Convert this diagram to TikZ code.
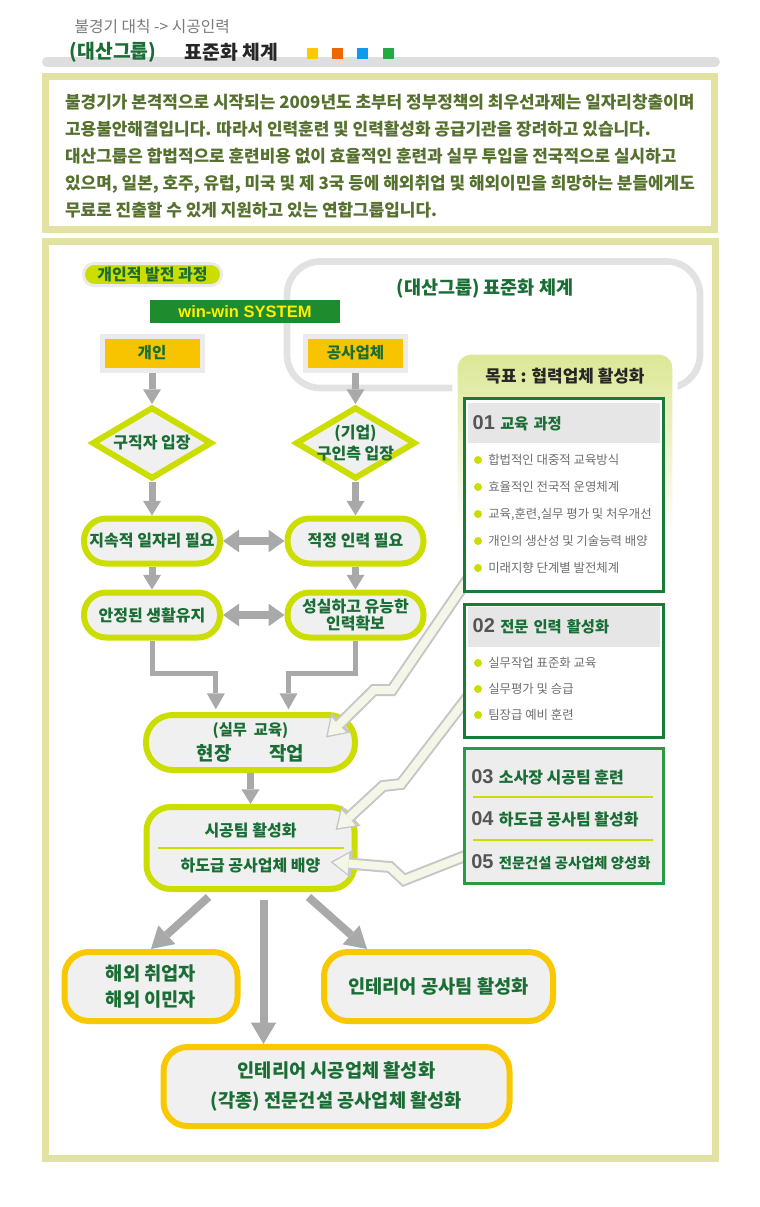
\documentclass[tikz,border=0pt]{standalone}
\usepackage{fontspec}
\setmainfont{Noto Sans CJK KR}
\newfontfamily\latfont{Liberation Sans}
\usetikzlibrary{arrows.meta,calc,shapes.geometric}

\definecolor{cKhaki}{HTML}{E2E2A2}
\definecolor{cLime}{HTML}{CCDD00}
\definecolor{cDark}{HTML}{1A6E35}
\definecolor{cOlive}{HTML}{56702E}
\definecolor{cArr}{HTML}{A9A9A9}
\definecolor{cFill}{HTML}{F0F0F0}
\definecolor{cFrame}{HTML}{E2E2E2}
\definecolor{cYel}{HTML}{F8C400}
\definecolor{cGold}{HTML}{FAC800}
\definecolor{cBox}{HTML}{1A7A3A}
\definecolor{cBoxT}{HTML}{2A9A45}
\definecolor{cBand}{HTML}{E6E6E6}
\definecolor{cWin}{HTML}{1E8C2E}
\definecolor{cWinT}{HTML}{FFEE00}
\definecolor{cNum}{HTML}{555555}
\definecolor{cItem}{HTML}{6E6E6E}
\definecolor{cBolt}{HTML}{F4F6E8}
\definecolor{cBoltl}{HTML}{C6C6C6}
\definecolor{cPanel}{HTML}{DCE794}
\definecolor{cGrey}{HTML}{7A7A7A}
\definecolor{cBar}{HTML}{DEDEDE}
\definecolor{cEdge}{HTML}{EBEBEB}
\definecolor{cLight}{HTML}{EDEDED}
\definecolor{cSqY}{HTML}{FFC800}
\definecolor{cSqO}{HTML}{EE6600}
\definecolor{cSqB}{HTML}{1199EE}
\definecolor{cSqG}{HTML}{22AA44}

\newcommand\fsz[2]{\fontsize{#1}{#2}\selectfont}
\newcommand\bignum[1]{{\latfont\bfseries\fsz{15pt}{15pt}\color{cNum}#1}\hspace{4pt}}

\tikzset{
  garr/.style={draw=cArr, line width=5.25pt, -{Triangle[width=13.5pt,length=11pt,line width=0pt]}},
  darr/.style={draw=cArr, line width=6pt, {Triangle[width=17pt,length=12pt,line width=0pt]}-{Triangle[width=17pt,length=12pt,line width=0pt]}},
  elbow/.style={draw=cArr, line width=3.75pt, shorten >=2pt, -{Triangle[width=13.5pt,length=12pt,line width=0pt]}},
  fan/.style={draw=cArr, line width=6pt, -{Triangle[width=19pt,length=16pt,line width=0pt]}},
  bolt/.style={preaction={draw=cBoltl, line width=9pt, shorten >=0pt, -{Triangle[width=21pt,length=16pt,line width=0pt]}},
    draw=cBolt, line width=6pt, shorten >=2pt, -{Triangle[width=15.5pt,length=11.5pt,line width=0pt]}},
  intro/.style={inner sep=0pt, text=cOlive, font=\bfseries\fsz{12.7pt}{20.25pt}, align=left},
  tag/.style={rectangle, rounded corners=8pt, draw=cEdge, line width=2.25pt, fill=cLime, minimum width=103.5pt,
    minimum height=16.5pt, inner sep=0pt, text=cDark, font=\bfseries\fsz{12pt}{13pt}},
  win/.style={fill=cWin, minimum width=142.5pt, minimum height=17.25pt, inner sep=0pt, text=cWinT,
    font=\latfont\bfseries\fsz{12.4pt}{14pt}},
  ybox/.style={draw=cEdge, line width=3.75pt, fill=cYel, minimum width=75pt, minimum height=25.5pt,
    inner sep=0pt, text=cDark, font=\bfseries\fsz{11.7pt}{13pt}},
  dia/.style={diamond, draw=cLime, line width=4.5pt, fill=cFill, minimum width=90pt, minimum height=54pt, inner sep=0pt},
  dtxt/.style={text=cDark, font=\bfseries\fsz{12pt}{15.5pt}, align=center},
  pill/.style={rectangle, rounded corners=16.5pt, draw=cLime, line width=4.5pt, fill=cFill, inner sep=0pt,
    minimum width=102pt, minimum height=33.75pt, text=cDark, font=\bfseries\fsz{12pt}{13pt}, align=center},
  gbox/.style={rectangle, rounded corners=18pt, draw=cGold, line width=4.5pt, fill=cFill, inner sep=0pt,
    minimum height=51.75pt, text=cDark, font=\bfseries\fsz{14pt}{19.5pt}, align=center},
  rbox/.style={draw=cBox, line width=2.25pt, fill=white, minimum width=149.25pt, inner sep=0pt},
  band/.style={fill=cBand, minimum width=144pt, minimum height=30pt, text width=137pt, inner xsep=3.5pt,
    align=left, text=cDark, font=\bfseries\fsz{11.5pt}{13pt}},
  item/.style={anchor=west, inner sep=0pt, text=cItem, font=\fsz{9.3pt}{10pt}},
  line3/.style={anchor=west, inner sep=0pt, text=cDark, font=\bfseries\fsz{12pt}{13pt}}
}

\begin{document}
\begin{tikzpicture}[x=0.75pt, y=-0.75pt]
\useasboundingbox (0,0) rectangle (760,1207);

% titre
\node[anchor=west, text=cGrey, font=\fsz{11.8pt}{13pt}] (top) at (70,27) {불경기 대칙 -> 시공인력};
\draw[cBar, line width=7.5pt, line cap=round] (47,62) -- (715,62);
\node[anchor=west, text=cDark, font=\bfseries\fsz{14.5pt}{16pt}] (grp) at (65,52.5) {(대산그룹)};
\node[anchor=west, text=black!85, font=\bfseries\fsz{14.5pt}{16pt}] (std) at (180,52.5) {표준화 체계};
\foreach \x/\c in {307/cSqY,332/cSqO,357/cSqB,383/cSqG}
  \fill[\c] (\x,48) rectangle ++(11,11);

\draw[cKhaki, line width=5.25pt] (45.5,76.5) rectangle (714.5,229.5);
\node[intro] (intro) at (380,156.5) {불경기가 본격적으로 시작되는 2009년도 초부터 정부정책의 최우선과제는 일자리창출이며\\
고용불안해결입니다. 따라서 인력훈련 및 인력활성화 공급기관을 장려하고 있습니다.\\
대산그룹은 합법적으로 훈련비용 없이 효율적인 훈련과 실무 투입을 전국적으로 실시하고\\
있으며, 일본, 호주, 유럽, 미국 및 제 3국 등에 해외취업 및 해외이민을 희망하는 분들에게도\\
무료로 진출할 수 있게 지원하고 있는 연합그룹입니다.};

\draw[cKhaki, line width=5.25pt] (45.5,241.5) rectangle (715.5,1158.5); % cadre

% cadre gris + objectif
\draw[cFrame, line width=5pt, rounded corners=25pt] (287,261.5) rectangle (700,388);
\node[text=cDark, font=\bfseries\fsz{13.9pt}{15pt}] (ttl) at (485,289) {(대산그룹) 표준화 체계};
\path[draw=white, line width=4pt, top color=cPanel, bottom color=white, rounded corners=12pt]
  (455,535) -- (455,352) -- (675,352) -- (675,535);
\node[text=black!85, font=\bfseries\fsz{12.7pt}{14pt}] (goal) at (565,376) {목표 : 협력업체 활성화};

\node[tag] (tag) at (152.5,274.5) {개인적 발전 과정};
\node[win] (win) at (245,311.5) {win-win SYSTEM};

% gauche
\node[ybox] (ind) at (152,353) {개인};
\node[ybox] (com) at (355.5,353) {공사업체};
\node[dia, label={[dtxt]center:구직자 입장}] (dj) at (152,443) {};
\node[dia, label={[dtxt]center:(기업)\\구인측 입장}] (dc) at (355.5,443) {};
\node[pill] (j1) at (152,541) {지속적 일자리 필요};
\node[pill] (j2) at (355.5,541) {적정 인력 필요};
\node[pill] (s1) at (152,615) {안정된 생활유지};
\node[pill] (s2) at (355.5,615) {성실하고 유능한\\인력확보};
\node[pill, minimum width=156.75pt, minimum height=41.25pt, rounded corners=20pt] (sw) at (250.5,742.5)
  {{\fsz{11.5pt}{12pt}(실무~~교육)}\\[3pt]{\fsz{14.2pt}{15pt}현장\hspace{28pt}작업}};
\node[pill, minimum width=156pt, minimum height=61.5pt, rounded corners=18pt] (sh) at (250.5,848)
  {시공팀 활성화\\[13pt]하도급 공사업체 배양};
\draw[cLime, line width=1pt] ($(sh.west)+(14,0)$) -- ($(sh.east)+(-14,0)$);
\node[gbox, minimum width=129.75pt] (ha) at (151,986.5) {해외 취업자\\해외 이민자};
\node[gbox, minimum width=171.75pt] (it) at (438.5,986.5) {인테리어 공사팀 활성화};
\node[gbox, minimum width=259.5pt, minimum height=59.25pt] (bl) at (336.5,1086.5)
  {인테리어 시공업체 활성화\\[2.5pt](각종) 전문건설 공사업체 활성화};

\draw[garr] (ind.south) -- (dj.north);
\draw[garr] (com.south) -- (dc.north);
\draw[garr] (dj.south) -- (j1.north);
\draw[garr] (dc.south) -- (j2.north);
\draw[garr] (j1.south) -- (s1.north);
\draw[garr] (j2.south) -- (s2.north);
\draw[darr] (j1.east) -- (j2.west);
\draw[darr] (s1.east) -- (s2.west);
\draw[elbow] (s1.south) -- ++(0,33) -| ([xshift=-26pt]sw.north);
\draw[elbow] (s2.south) -- ++(0,33) -| ([xshift=28.5pt]sw.north);
\draw[garr] (sw.south) -- (sh.north);
\draw[fan] ($(sh.south)+(-42,5)$) -- (ha.north);
\draw[fan] ($(sh.south)+(58,5)$) -- ($(it.north west)+(46,0)$);
\coordinate (m) at ($(sh.south)+(13,8)$);
\draw[fan] (m) -- (m |- bl.north);

% eclairs
\coordinate (o1) at (470,576);
\coordinate (o2) at (470,694);
\coordinate (o3) at (470,854);
\draw[bolt] (o1) -- (392,690) -- (374,690) -- ($(sw.east)+(-32,-5)$);
\draw[bolt] (o2) -- (401,784) -- (383,786) -- ($(sh.east)+(-22,-18)$);
\draw[bolt] (o3) -- (404,880) -- (390,867) -- ($(sh.east)+(-27,14)$);

% droite
\node[rbox, minimum height=144.75pt] (b1) at (564,495) {};
\node[band] (h1) at (564,423) {\bignum{01}교육 과정};
\foreach \t [count=\i] in {합법적인 대중적 교육방식, 효율적인 전국적 운영체계, {교육,훈련,실무 평가 및 처우개선},
    개인의 생산성 및 기술능력 배양, 미래지향 단계별 발전체계}{
  \fill[cLime] (478,433+27*\i) circle (3pt);
  \node[item] (a\i) at (488,433+27*\i) {\t};
}
\node[rbox, minimum height=99.75pt] (b2) at (564,671) {};
\node[band] (h2) at (564,626.5) {\bignum{02}전문 인력 활성화};
\foreach \t [count=\i] in {실무작업 표준화 교육, 실무평가 및 승급, 팀장급 예비 훈련}{
  \fill[cLime] (478,637+26*\i) circle (3pt);
  \node[item] (e\i) at (488,637+26*\i) {\t};
}
\node[rbox, draw=cBoxT, fill=cLight, minimum height=101.25pt] (b3) at (564,816) {};
\node[line3] (c1) at (471,777) {\bignum{03}소사장 시공팀 훈련};
\node[line3] (c2) at (471,819) {\bignum{04}하도급 공사팀 활성화};
\node[line3, font=\bfseries\fsz{10.75pt}{12pt}] (c3) at (471,862) {\bignum{05}전문건설 공사업체 양성화};
\draw[cLime, line width=1pt] (473,797) -- (653,797)  (473,840) -- (653,840);
\end{tikzpicture}
\end{document}
